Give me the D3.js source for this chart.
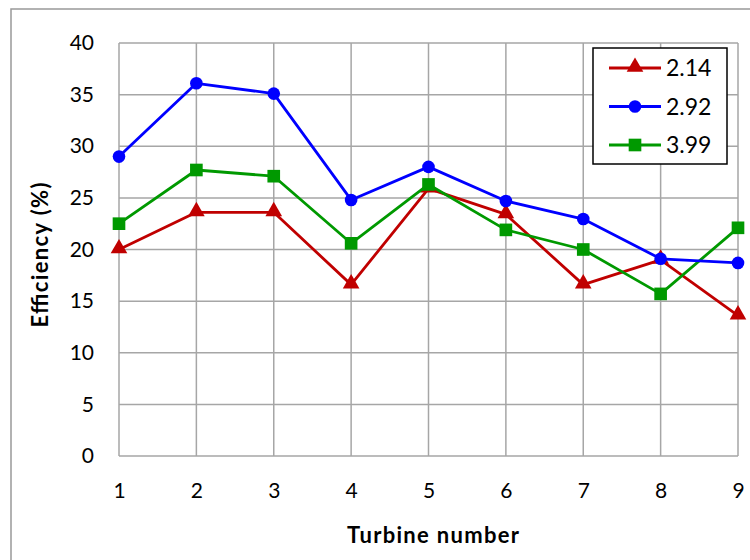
<!DOCTYPE html>
<html><head><meta charset="utf-8">
<script src="https://cdn.jsdelivr.net/npm/d3@7"></script>
<style>body{margin:0;background:#fff;} text{font-family:Lato,"Open Sans",sans-serif;}</style>
</head><body><svg id="c" width="750" height="560"></svg>
<script>
const turbines = [1,2,3,4,5,6,7,8,9];
const s214 = [20.0,23.6,23.6,16.6,25.9,23.4,16.6,19.0,13.6];
const s292 = [29.0,36.1,35.1,24.8,28.0,24.7,22.95,19.1,18.7];
const s399 = [22.5,27.7,27.1,20.6,26.3,21.9,20.0,15.7,22.1];
const seriesNames = ["2.14","2.92","3.99"];
const yTicks = [0,5,10,15,20,25,30,35,40];

const svg = d3.select("#c");
svg.append("rect").attr("x",11).attr("y",9).attr("width",760).attr("height",580)
  .attr("fill","#fff").attr("stroke","#999").attr("stroke-width",1.5);

const x = d3.scaleLinear().domain([1,9]).range([119,738]);
const y = d3.scaleLinear().domain([0,40]).range([456,43]);

const g = svg.append("g");
g.selectAll(".hg").data(yTicks).join("line")
  .attr("x1",119).attr("x2",738).attr("y1",d=>y(d)).attr("y2",d=>y(d))
  .attr("stroke","#a6a6a6").attr("stroke-width",1.5);
g.selectAll(".vg").data(turbines).join("line")
  .attr("y1",43).attr("y2",456).attr("x1",d=>x(d)).attr("x2",d=>x(d))
  .attr("stroke","#a6a6a6").attr("stroke-width",1.5);

const yAxis = d3.axisLeft(y).tickValues(yTicks).tickSize(0).tickPadding(25);
const ya = svg.append("g").attr("transform","translate(119,0)").call(yAxis);
ya.select(".domain").remove();
ya.selectAll("text").style("font-family","Lato, sans-serif").style("font-size","21px").attr("fill","#000");

const xAxis = d3.axisBottom(x).tickValues(turbines).tickSize(0).tickPadding(27).tickFormat(d3.format("d"));
const xa = svg.append("g").attr("transform","translate(0,456)").call(xAxis);
xa.select(".domain").remove();
xa.selectAll("text").style("font-family","Lato, sans-serif").style("font-size","21px").attr("fill","#000");

svg.append("text").attr("x",433).attr("y",543).attr("text-anchor","middle")
  .attr("textLength",172).attr("lengthAdjust","spacing")
  .style("font-size","22px").style("font-weight","bold").text("Turbine number");
svg.append("text").attr("transform","translate(48,255) rotate(-90)").attr("text-anchor","middle")
  .attr("textLength",145).attr("lengthAdjust","spacing")
  .style("font-size","22px").style("font-weight","bold").text("Efficiency (%)");

const series = [
  {name:seriesNames[0], vals:s214, color:"#c00000", shape:d3.symbolTriangle, size:120},
  {name:seriesNames[1], vals:s292, color:"#0000ff", shape:d3.symbolCircle, size:125},
  {name:seriesNames[2], vals:s399, color:"#009900", shape:d3.symbolSquare, size:160}
];
const line = d3.line().x((d,i)=>x(turbines[i])).y(d=>y(d));
const drawOrder = [0,2,1];
drawOrder.forEach(k=>{
  const s = series[k];
  svg.append("path").datum(s.vals).attr("d",line).attr("fill","none")
    .attr("stroke",s.color).attr("stroke-width",2.8).attr("stroke-linejoin","round");
  svg.selectAll(null).data(s.vals).join("path")
    .attr("transform",(d,i)=>`translate(${x(turbines[i])},${y(d)+(k===0?-1:0)})`)
    .attr("d",d3.symbol().type(s.shape).size(s.size)).attr("fill",s.color);
});

const lg = svg.append("g");
lg.append("rect").attr("x",593).attr("y",48).attr("width",134).attr("height",116)
  .attr("fill","#fff").attr("stroke","#000").attr("stroke-width",1.5);
series.forEach((s,i)=>{
  const cy = 68 + i*38.5;
  lg.append("line").attr("x1",609).attr("x2",661).attr("y1",cy).attr("y2",cy)
    .attr("stroke",s.color).attr("stroke-width",2.8);
  lg.append("path").attr("transform",`translate(635,${cy+(i===0?-1:0)})`)
    .attr("d",d3.symbol().type(s.shape).size(s.size)).attr("fill",s.color);
  lg.append("text").attr("x",666).attr("y",cy).attr("dy","0.36em")
    .style("font-size","23px").text(s.name);
});
</script></body></html>
